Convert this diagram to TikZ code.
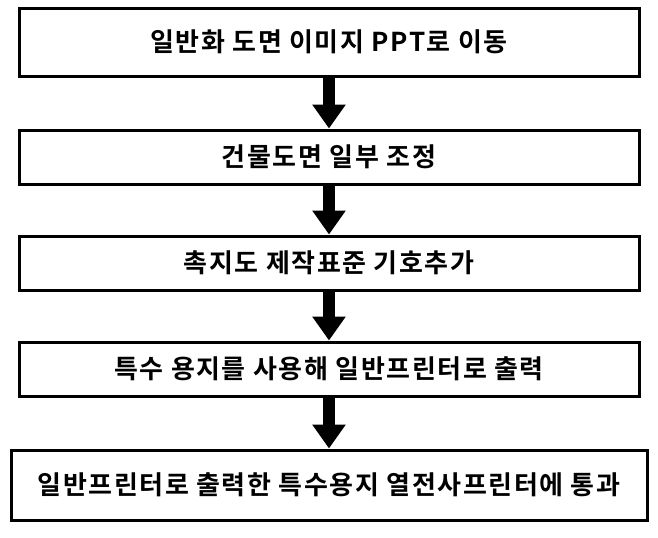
\documentclass[tikz,border=0pt]{standalone}
\usepackage{fontspec}
\setmainfont{Noto Sans CJK KR}[BoldFont={* Bold}, LetterSpace=6]
\usetikzlibrary{arrows.meta}
\tikzstyle{stepbox} = [rectangle, draw=black, line width=1.5pt, minimum height=27pt, text centered, font=\fontsize{13pt}{15pt}\selectfont\bfseries]
\tikzstyle{arrow} = [line width=6pt, -{Triangle[width=16pt,length=12pt]}]
\begin{document}
\begin{tikzpicture}[x=0.5pt, y=-0.5pt]
	\useasboundingbox (0,0) rectangle (658,537);
	\node (Move) [stepbox, minimum width=310pt, minimum height=34pt] at (329,42) {일반화 도면 이미지 PPT로 이동};
	\node (Adjust) [stepbox, minimum width=310pt] at (329,157) {건물도면 일부 조정};
	\node (Symbol) [stepbox, minimum width=310pt] at (329,263) {촉지도 제작표준 기호추가};
	\node (Print) [stepbox, minimum width=310pt] at (329,369) {특수 용지를 사용해 일반프린터로 출력};
	\node (Pass) [stepbox, minimum width=318pt, minimum height=35pt] at (329,485) {일반프린터로 출력한 특수용지 열전사프린터에 통과};
	\draw [arrow] (Move) -- (Adjust);
	\draw [arrow] (Adjust) -- (Symbol);
	\draw [arrow] (Symbol) -- (Print);
	\draw [arrow] (Print) -- (Pass);
\end{tikzpicture}
\end{document}
